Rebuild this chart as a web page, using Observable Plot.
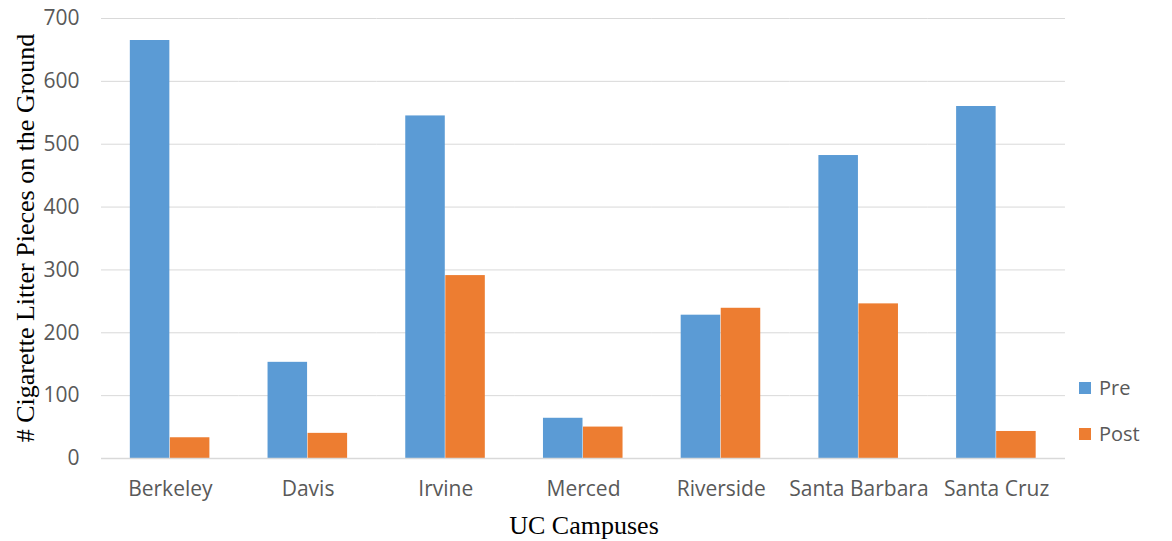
<!DOCTYPE html>
<html>
<head>
<meta charset="utf-8">
<script src="https://cdn.jsdelivr.net/npm/d3@7"></script>
<script src="https://cdn.jsdelivr.net/npm/@observablehq/plot@0.6"></script>
<style>
  body { margin: 0; background: #fff; }
  #wrap { position: relative; width: 1172px; height: 541px; overflow: hidden; }
  .ytitle { position: absolute; left: 26px; top: 238px; transform: translate(-50%, -50%) rotate(-90deg);
    font-family: "Liberation Serif", "Times New Roman", serif; font-size: 26px; color: #000; white-space: nowrap; }
  .xtitle { position: absolute; left: 584px; top: 526px; transform: translate(-50%, -50%);
    font-family: "Liberation Serif", "Times New Roman", serif; font-size: 26px; color: #000; white-space: nowrap; }
  .legend { position: absolute; left: 1079px; font-family: "Open Sans", sans-serif; font-size: 20px; color: #595959;
    display: flex; align-items: center; line-height: 28px; }
  .legend span.sw { display: inline-block; width: 12px; height: 12px; margin-right: 8px; }
</style>
</head>
<body>
<div id="wrap"></div>
<script>
const campuses = ["Berkeley", "Davis", "Irvine", "Merced", "Riverside", "Santa Barbara", "Santa Cruz"];
const series = ["Pre", "Post"];
const preValues = [665, 153, 545, 64, 228, 482, 560];
const postValues = [33, 40, 291, 50, 239, 246, 43];
const colors = ["#5B9BD5", "#ED7D31"];
const yTicks = [0, 100, 200, 300, 400, 500, 600, 700];
const yTitle = "# Cigarette Litter Pieces on the Ground";
const xTitle = "UC Campuses";

const data = [];
campuses.forEach((c, i) => {
  data.push({campus: c, series: "Pre", value: preValues[i]});
  data.push({campus: c, series: "Post", value: postValues[i]});
});

const chart = Plot.plot({
  width: 1172,
  height: 541,
  marginLeft: 101,
  marginRight: 107,
  marginTop: 18,
  marginBottom: 83,
  style: {fontFamily: "'Open Sans', sans-serif", fontSize: "20px", color: "#595959", background: "#fff"},
  fx: {domain: campuses, padding: 0, round: false, label: null},
  x: {domain: series, paddingInner: 0, paddingOuter: 0.72, round: false, axis: null},
  y: {domain: [0, 700], label: null},
  color: {domain: series, range: colors},
  marks: [
    Plot.gridY(yTicks, {stroke: "#d9d9d9", strokeOpacity: 1, strokeWidth: 1}),
    Plot.barY(data, {fx: "campus", x: "series", y: "value", fill: "series", insetRight: 0.5}),
    Plot.ruleY([0], {stroke: "#d9d9d9", strokeWidth: 1.5}),
    Plot.axisY(yTicks, {tickSize: 0, tickPadding: 22, label: null, fill: "#595959", fontSize: 21}),
    Plot.axisFx({anchor: "bottom", tickSize: 0, tickPadding: 23, label: null, fill: "#595959", fontSize: 21})
  ]
});

const wrap = document.getElementById("wrap");
wrap.appendChild(chart);

const yt = document.createElement("div");
yt.className = "ytitle"; yt.textContent = yTitle; wrap.appendChild(yt);
const xt = document.createElement("div");
xt.className = "xtitle"; xt.textContent = xTitle; wrap.appendChild(xt);

const legendTops = [374, 420];
series.forEach((s, i) => {
  const d = document.createElement("div");
  d.className = "legend";
  d.style.top = legendTops[i] + "px";
  const sw = document.createElement("span");
  sw.className = "sw"; sw.style.background = colors[i];
  const t = document.createElement("span");
  t.textContent = s;
  d.appendChild(sw); d.appendChild(t);
  wrap.appendChild(d);
});
</script>
</body>
</html>
